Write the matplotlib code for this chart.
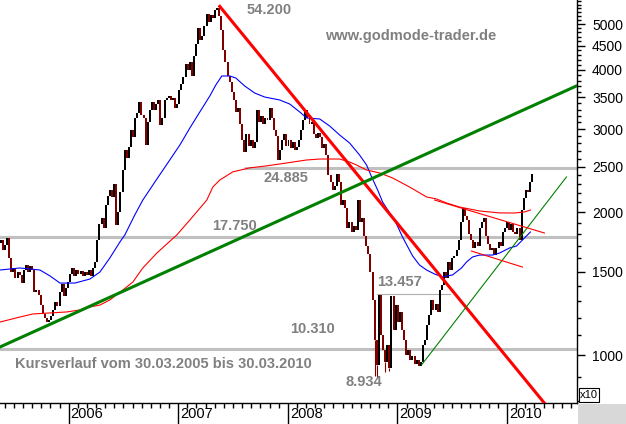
import matplotlib
matplotlib.use("Agg")
import matplotlib.pyplot as plt
import matplotlib.transforms as mtransforms
from matplotlib.ticker import FixedLocator, NullFormatter, FixedFormatter
from matplotlib.patches import Rectangle
import numpy as np

plt.rcParams['font.family'] = ['Liberation Sans', 'DejaVu Sans']

# ---------------- data (prices in units of 10) ----------------
start_year = 2005.2466          # first weekly bar (01.04.2005)
week = 7 / 365.25
first_open = 1730
closes = [
    1707, 1733, 1683, 1716, 1749, 1699, 1724, 1749, 1666, 1707,
    1767, 1603, 1497, 1527, 1454, 1497, 1476, 1419, 1512, 1549,
    1497, 1542, 1512, 1359, 1372, 1339, 1275, 1221, 1197, 1174,
    1186, 1209, 1245, 1294, 1269, 1359, 1412, 1332, 1385, 1426,
    1483, 1527, 1469, 1512, 1483, 1505, 1469, 1497, 1476, 1512,
    1469, 1527, 1572, 1749, 1891, 1947, 1855, 2074, 2167, 2231,
    2157, 2297, 1882, 2005, 2209, 2459, 2710, 2607, 2750, 2987,
    2887, 3167, 3245, 3423, 3213, 3167, 2777, 3106, 3292, 3423,
    3292, 3390, 3457, 3061, 3167, 3457, 3490, 3524, 3457, 3490,
    3325, 3390, 3629, 3737, 3866, 4118, 4000, 4159, 3885, 4282,
    4539, 4907, 4627, 4719, 4955, 5252, 5052, 5227, 5151, 5355,
    5420, 5201, 4858, 4408, 4159, 3885, 3773, 3594, 3457, 3261,
    3325, 3076, 2845, 2684, 2930, 2764, 2845, 2737, 2818, 3292,
    3106, 3198, 3076, 3167, 3136, 3325, 3167, 2987, 2901, 2582,
    2710, 2845, 2930, 2764, 2845, 2737, 2818, 2710, 2750, 2845,
    2987, 3136, 3292, 3167, 3076, 3106, 2930, 2873, 2944, 2887,
    2737, 2791, 2645, 2400, 2320, 2231, 2275, 2412, 2320, 2074,
    2125, 2044, 1855, 1910, 1819, 1873, 1837, 2125, 1910, 1947,
    1784, 1699, 1634, 1497, 1307, 1076, 953, 1340, 1102, 1025,
    966, 1050, 939, 1330, 1129, 1275, 1174, 1233, 1129, 1076,
    1000, 1025, 976, 995, 957, 976, 948, 966, 1050, 1076,
    1157, 1215, 1307, 1245, 1282, 1233, 1372, 1406, 1497, 1454,
    1572, 1512, 1603, 1619, 1666, 1749, 1910, 2044, 1966, 1928,
    1801, 1749, 1683, 1733, 1699, 1855, 1910, 1947, 1784, 1716,
    1666, 1683, 1626, 1683, 1733, 1699, 1819, 1855, 1910, 1837,
    1891, 1819, 1801, 1855, 1749, 2024, 2146, 2231, 2209, 2320, 2412,
]
# a few visible lower wicks (bar index, low)
wick_idx = [185, 186, 190, 192]
wick_low = [905, 893, 920, 925]

# moving averages
ma_fast_x = [2005.25, 2005.374, 2005.556, 2005.738, 2005.830, 2005.921, 2006.057, 2006.194,
             2006.285, 2006.376, 2006.468, 2006.513, 2006.604, 2006.677, 2006.787, 2006.923,
             2007.015, 2007.106, 2007.197, 2007.288, 2007.343, 2007.398, 2007.470, 2007.525,
             2007.607, 2007.698, 2007.789, 2007.926, 2008.017, 2008.109, 2008.172, 2008.291,
             2008.382, 2008.473, 2008.564, 2008.655, 2008.719, 2008.765, 2008.820, 2008.865,
             2008.929, 2008.975, 2009.047, 2009.139, 2009.202, 2009.266, 2009.339, 2009.412,
             2009.503, 2009.585, 2009.631, 2009.686, 2009.749, 2009.868, 2009.932, 2010.023,
             2010.087, 2010.141, 2010.214]
ma_fast_y = [1497, 1512, 1527, 1512, 1469, 1419, 1419, 1447,
             1497, 1603, 1733, 1793, 1977, 2125, 2320, 2582,
             2777, 3016, 3261, 3524, 3718, 3885, 3885, 3848,
             3700, 3576, 3507, 3457, 3390, 3261, 3167, 3152,
             3046, 2916, 2804, 2645, 2519, 2377, 2231, 2105,
             1996, 1928, 1775, 1619, 1549, 1512, 1483, 1462,
             1476, 1527, 1572, 1611, 1626, 1626, 1642, 1683,
             1699, 1749, 1819]
ma_slow_x = [2005.25, 2005.374, 2005.556, 2005.675, 2005.830, 2005.984, 2006.103, 2006.194,
             2006.285, 2006.376, 2006.495, 2006.586, 2006.677, 2006.805, 2006.987, 2007.106,
             2007.261, 2007.316, 2007.379, 2007.498, 2007.653, 2007.807, 2007.990, 2008.172,
             2008.291, 2008.473, 2008.564, 2008.628, 2008.719, 2008.838, 2008.956, 2009.111,
             2009.266, 2009.357, 2009.448, 2009.567, 2009.749, 2009.932, 2010.068, 2010.160,
             2010.214]
ma_slow_y = [1169, 1174, 1203, 1221, 1227, 1233, 1245, 1263,
             1275, 1307, 1372, 1426, 1527, 1642, 1793, 1928,
             2125, 2264, 2342, 2437, 2485, 2509, 2545, 2582,
             2594, 2594, 2557, 2519, 2459, 2424, 2366, 2264,
             2157, 2136, 2095, 2054, 2015, 1996, 1995, 2005,
             2024]

# horizontal support / resistance levels
levels = [2488.5, 1775.0, 1031.0]
level_starts = [2007.598, 2005.0, 2005.0]
sub_level = 1345.7
sub_level_span = [2008.81, 2009.476]

# trend lines
trend_down_x, trend_down_y = [2007.379, 2010.43], [5450, 747]
trend_up_x, trend_up_y = [2005.282, 2010.752], [1017, 3808]
trend_thin_x, trend_thin_y = [2009.2206, 2010.5426], [953, 2377]
tri_upper_x, tri_upper_y = [2009.339, 2010.342], [2125, 1810]
tri_lower_x, tri_lower_y = [2009.676, 2010.141], [1658, 1534]

years = [2006, 2007, 2008, 2009, 2010]
y_major = [1000, 1500, 2000, 2500, 3000, 3500, 4000, 4500, 5000]
y_minor = [v for v in range(800, 5700, 100) if v not in y_major]

# ---------------- figure ----------------
W, H = 626, 424
fig = plt.figure(figsize=(W / 100, H / 100), dpi=100)
fig.patch.set_facecolor('white')
ax = fig.add_axes([0, 21 / H, 577 / W, 403 / H])
ax.set_yscale('log')
ax.set_xlim(2005.3737, 2010.639)
ax.set_ylim(791.8, 5622)

# levels
for lv, xs0 in zip(levels, level_starts):
    ax.plot([xs0, 2011], [lv, lv], color='#c0c0c0', lw=2.2, zorder=1, solid_capstyle='butt')
ax.plot(sub_level_span, [sub_level, sub_level], color='#b0b0b0', lw=0.8, zorder=1)

# candles
n = len(closes)
xs = start_year + np.arange(n) * week
opens = [first_open] + closes[:-1]
lo = np.minimum(opens, closes).astype(float)
hi = np.maximum(opens, closes).astype(float)
hi = np.maximum(hi, lo * 1.008)
cols = ['#800000' if c < o else '#000000' for o, c in zip(opens, closes)]
ax.vlines(xs[wick_idx], wick_low, lo[wick_idx], colors=[cols[i] for i in wick_idx],
          linewidth=0.8, zorder=2)
ax.bar(xs, hi - lo, bottom=lo, width=week * 0.95, color=cols, linewidth=0,
       antialiased=False, zorder=2)

# moving averages
ax.plot(ma_fast_x, ma_fast_y, color='#0000ff', lw=0.8, zorder=3)
ax.plot(ma_slow_x, ma_slow_y, color='#ff0000', lw=0.8, zorder=3)

# trend lines
ax.plot(trend_down_x, trend_down_y, color='#ff0000', lw=2.2, zorder=4)
ax.plot(trend_up_x, trend_up_y, color='#008000', lw=2.2, zorder=4)
ax.plot(trend_thin_x, trend_thin_y, color='#008000', lw=0.8, zorder=4)
ax.plot(tri_upper_x, tri_upper_y, color='#ff0000', lw=0.8, zorder=4)
ax.plot(tri_lower_x, tri_lower_y, color='#ff0000', lw=0.8, zorder=4)

# axes styling
for s in ['left', 'top']:
    ax.spines[s].set_visible(False)
ax.spines['right'].set_linewidth(1.0)
ax.spines['bottom'].set_linewidth(1.0)

ax.yaxis.tick_right()
ax.yaxis.set_major_locator(FixedLocator(y_major))
ax.yaxis.set_major_formatter(FixedFormatter([str(v) for v in y_major]))
ax.yaxis.set_minor_locator(FixedLocator(y_minor))
ax.yaxis.set_minor_formatter(NullFormatter())
ax.tick_params(axis='y', which='major', length=5.8, width=1, pad=5, labelsize=10,
               direction='out', colors='black')
ax.tick_params(axis='y', which='minor', length=3.1, width=1, direction='out')

ax.xaxis.set_major_locator(FixedLocator(years))
ax.xaxis.set_major_formatter(NullFormatter())
ax.xaxis.set_minor_locator(FixedLocator([y + m / 12 for y in range(2005, 2011)
                                         for m in range(1, 12)]))
ax.tick_params(axis='x', which='major', length=15, width=1, direction='out')
ax.tick_params(axis='x', which='minor', length=3.5, width=1, direction='out')

trans = mtransforms.blended_transform_factory(ax.transData, ax.transAxes)
for yr in years:
    ax.text(yr + 0.018, -0.027, str(yr), transform=trans, ha='left', va='center',
            fontsize=10.5, color='black')

# annotations (figure pixel coordinates)
def ftext(x, y, s, **kw):
    fig.text(x / W, 1 - y / H, s, ha='left', va='center', **kw)

gray = dict(color='#808080', fontsize=10.5, fontweight='bold')
ftext(247, 10, '54.200', **gray)
ftext(325, 36, 'www.godmode-trader.de', **gray)
ftext(263, 178, '24.885', **gray)
ftext(212, 226, '17.750', **gray)
ftext(290, 329, '10.310', **gray)
ftext(377, 282, '13.457', **gray)
ftext(345, 382, '8.934', **gray)
ftext(15, 364, 'Kursverlauf vom 30.03.2005 bis 30.03.2010', **gray)

# x10 box and corner patch
fig.patches.append(Rectangle((579 / W, (H - 402) / H), 20 / W, 14 / H, transform=fig.transFigure,
                             facecolor='white', edgecolor='black', lw=0.8, zorder=5))
fig.text(589 / W, 1 - 395 / H, 'x10', ha='center', va='center', fontsize=8, zorder=6)
fig.patches.append(Rectangle((578 / W, 0), 48 / W, 20 / H, transform=fig.transFigure,
                             facecolor='#d8d8d8', edgecolor='none', zorder=0))

fig.savefig('out.png', dpi=100)
